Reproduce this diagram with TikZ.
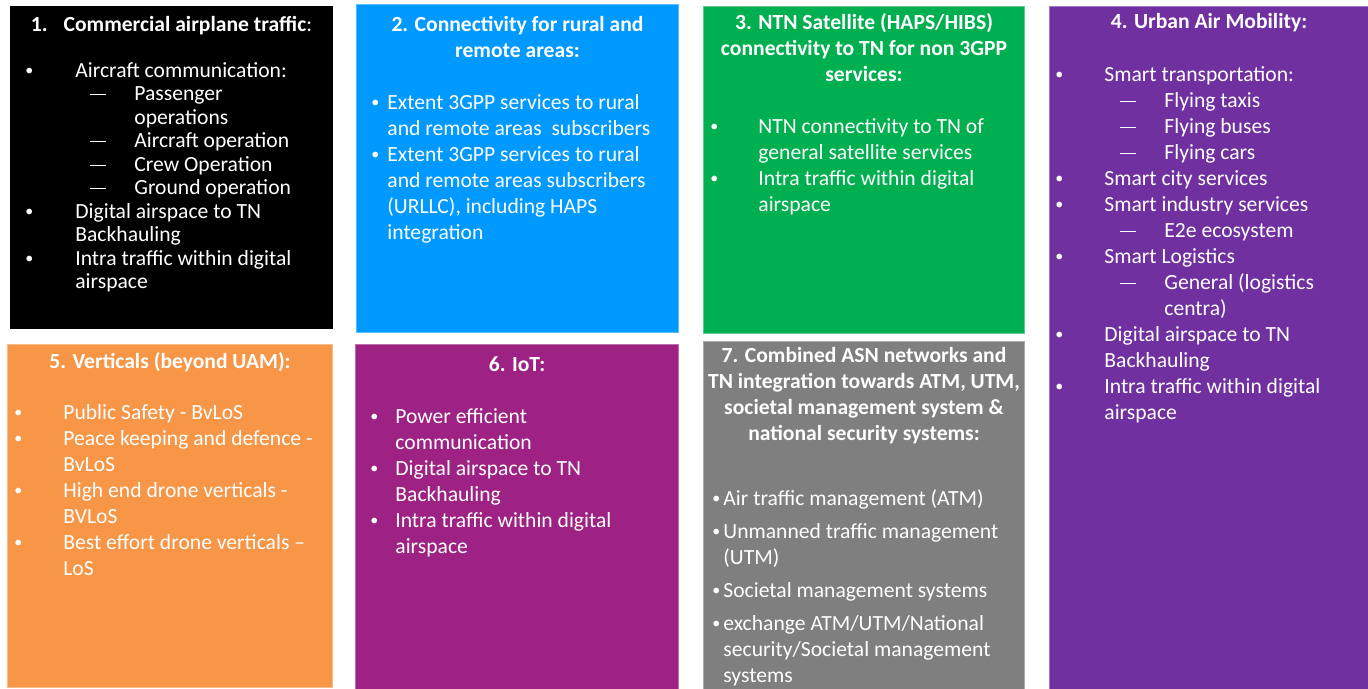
\documentclass[tikz,border=0pt]{standalone}
\usepackage{fontspec}
\setmainfont{Carlito}
\usetikzlibrary{positioning}

\definecolor{ucblack}{HTML}{000000}
\definecolor{ucblue}{HTML}{0099FF}
\definecolor{ucgreen}{HTML}{00B050}
\definecolor{ucpurple}{HTML}{7030A0}
\definecolor{ucorange}{HTML}{F79646}
\definecolor{ucmagenta}{HTML}{9D2283}
\definecolor{ucgray}{HTML}{7F7F7F}

\newlength{\bulw}
\newlength{\dshin}
\setlength{\dshin}{32.5pt}
\newcommand{\bdot}{\raisebox{0.08em}{\fontsize{8}{8}\selectfont\textbullet}}
\newcommand{\bpt}[1]{\makebox[\bulw][l]{\bdot}#1}
\newcommand{\bcont}[1]{\hspace*{\bulw}#1}
\newcommand{\dpt}[1]{\hspace*{\dshin}\makebox[22pt][l]{\rule[2.7pt]{8pt}{0.55pt}}#1}
\newcommand{\dcont}[1]{\hspace*{\dshin}\hspace*{22pt}#1}

\tikzset{
  card/.style={anchor=north west, inner sep=0pt, fill=#1, draw=#1!65!white, line width=0.5pt},
  cardtitle/.style={anchor=north, inner sep=0pt, align=center, text=white,
    font=\fontsize{10.8}{13}\selectfont\bfseries},
  cardbody/.style={anchor=north west, inner sep=0pt, align=left, text=white,
    font=\fontsize{10.8}{13}\selectfont, execute at begin node={\setlength{\bulw}{#1}}}
}

\begin{document}
\begin{tikzpicture}[x=0.5pt,y=-0.5pt]
\useasboundingbox (0,0) rectangle (1368,689);

% top row
\node[card=ucblack, draw=ucblack, minimum width=161pt, minimum height=161pt] (c1) at (10,6) {};
\node[card=ucblue, minimum width=161pt, minimum height=164pt] (c2) at (356,4) {};
\node[card=ucgreen, minimum width=160.5pt, minimum height=163.5pt] (c3) at (703,6) {};
\node[card=ucpurple, minimum width=159.5pt, minimum height=341.5pt] (c4) at (1049,6) {};
% bottom row
\node[card=ucorange, minimum width=162.5pt, minimum height=171.5pt] (c5) at (7,344) {};
\node[card=ucmagenta, minimum width=161.5pt, minimum height=172.5pt] (c6) at (355,344) {};
\node[card=ucgray, minimum width=160.5pt, minimum height=174pt] (c7) at (703,341) {};

\node[cardtitle, below=5pt of c1.north] (t1) {1.\hspace{8pt}Commercial airplane traffic\textmd{:}};
\node[cardtitle, below=6pt of c2.north] (t2) {2. Connectivity for rural and\\remote areas:};
\node[cardtitle, below=3.5pt of c3.north] (t3) {3. NTN Satellite (HAPS/HIBS)\\connectivity to TN for non 3GPP\\services:};
\node[cardtitle, below=3.5pt of c4.north] (t4) {4. Urban Air Mobility:};
\node[cardtitle, below=4pt of c5.north] (t5) {5. Verticals (beyond UAM):};
\node[cardtitle, below=6pt of c6.north] (t6) {6. IoT:};
\node[cardtitle, below=3pt of c7.north] (t7) {7. Combined ASN networks and\\TN integration towards ATM, UTM,\\societal management system \&\\national security systems:};

\node[cardbody=25pt, font=\fontsize{10.8}{11.75}\selectfont, below right=28pt and 7.5pt of c1.north west] (l1) {%
  \bpt{Aircraft communication:}\\
  \dpt{Passenger}\\
  \dcont{operations}\\
  \dpt{Aircraft operation}\\
  \dpt{Crew Operation}\\
  \dpt{Ground operation}\\
  \bpt{Digital airspace to TN}\\
  \bcont{Backhauling}\\
  \bpt{Intra traffic within digital}\\
  \bcont{airspace}};

\node[cardbody=8pt, below right=45pt and 7.5pt of c2.north west] (l2) {%
  \bpt{Extent 3GPP services to rural}\\
  \bcont{and remote areas \ subscribers}\\
  \bpt{Extent 3GPP services to rural}\\
  \bcont{and remote areas subscribers}\\
  \bcont{(URLLC), including HAPS}\\
  \bcont{integration}};

\node[cardbody=24pt, below right=56pt and 3.5pt of c3.north west] (l3) {%
  \bpt{NTN connectivity to TN of}\\
  \bcont{general satellite services}\\
  \bpt{Intra traffic within digital}\\
  \bcont{airspace}};

\node[cardbody=24.5pt, below right=30pt and 3pt of c4.north west] (l4) {%
  \bpt{Smart transportation:}\\
  \dpt{Flying taxis}\\
  \dpt{Flying buses}\\
  \dpt{Flying cars}\\
  \bpt{Smart city services}\\
  \bpt{Smart industry services}\\
  \dpt{E2e ecosystem}\\
  \bpt{Smart Logistics}\\
  \dpt{General (logistics}\\
  \dcont{centra)}\\
  \bpt{Digital airspace to TN}\\
  \bcont{Backhauling}\\
  \bpt{Intra traffic within digital}\\
  \bcont{airspace}};

\node[cardbody=24.5pt, below right=30pt and 3.5pt of c5.north west] (l5) {%
  \bpt{Public Safety - BvLoS}\\
  \bpt{Peace keeping and defence -}\\
  \bcont{BvLoS}\\
  \bpt{High end drone verticals -}\\
  \bcont{BVLoS}\\
  \bpt{Best effort drone verticals --}\\
  \bcont{LoS}};

\node[cardbody=12.5pt, below right=32pt and 7.5pt of c6.north west] (l6) {%
  \bpt{Power efficient}\\
  \bcont{communication}\\
  \bpt{Digital airspace to TN}\\
  \bcont{Backhauling}\\
  \bpt{Intra traffic within digital}\\
  \bcont{airspace}};

\node[cardbody=5.5pt, below right=74pt and 4.5pt of c7.north west] (l7) {%
  \bpt{Air traffic management (ATM)}\\[3.5pt]
  \bpt{Unmanned traffic management}\\
  \bcont{(UTM)}\\[3.5pt]
  \bpt{Societal management systems}\\[3.5pt]
  \bpt{exchange ATM/UTM/National}\\
  \bcont{security/Societal management}\\
  \bcont{systems}};
\end{tikzpicture}
\end{document}
